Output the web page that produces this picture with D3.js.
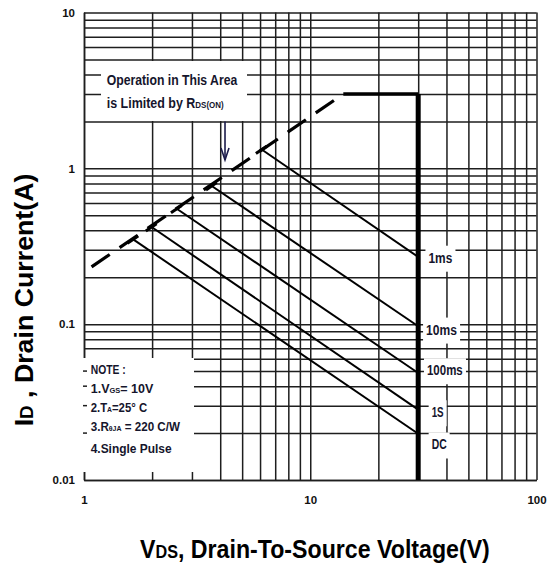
<!DOCTYPE html>
<html>
<head>
<meta charset="utf-8">
<script src="https://cdn.jsdelivr.net/npm/d3@7"></script>
<style>
  html, body { margin: 0; padding: 0; background: #fff; }
  svg { display: block; font-family: "Liberation Sans", Arial, sans-serif; font-weight: bold; }
</style>
</head>
<body>
<svg id="chart" width="547" height="569"></svg>
<script>
// Axis ranges and decade labels
const vdsDomain = [1, 100];
const idDomain = [0.01, 10];
const vdsTickLabels = [1, 10, 100];
const idTickLabels = [0.01, 0.1, 1, 10];

// Safe-operating-area boundaries
const rdsLimitV = [1.08, 14];
const rdsLimitI = [0.233, 3];
const currentLimitV = [14, 30];
const currentLimitI = [3, 3];
const voltageLimitV = [30, 30];
const voltageLimitI = [3, 0.01];

// Pulse-width curves (start on the RDS(on) line, end on the 30 V limit)
const pulseNames = ["1ms", "10ms", "100ms", "1S", "DC"];
const pulseStartV = [6.1, 3.67, 2.57, 1.99, 1.65];
const pulseStartI = [1.32, 0.77, 0.55, 0.42, 0.35];
const pulseEndV = [30, 30, 30, 30, 30];
const pulseEndI = [0.27, 0.097, 0.0486, 0.0283, 0.0198];

// Where each curve name sits (data units)
const pulseLabelV = [33.3, 32.5, 32.8, 34.4, 34.4];
const pulseLabelI = [0.267, 0.0923, 0.0506, 0.0272, 0.0169];

// Annotation arrow: from 2 A down toward the RDS(on) line at 4.2 V
const arrowV = 4.2;
const arrowFromI = 2;
const arrowToI = 1.13;

const svg = d3.select("#chart");
const plotL = 84, plotR = 536.5, plotT = 12.5, plotB = 480;

const x = d3.scaleLog().domain(vdsDomain).range([plotL, plotR]);
const y = d3.scaleLog().domain(idDomain).range([plotB, plotT]);

const round2 = v => +v.toPrecision(6);
const gridV = [];
[1, 10].forEach(d => d3.range(1, 10).forEach(k => gridV.push(round2(d * k))));
gridV.push(100);
const gridI = [];
[0.01, 0.1, 1].forEach(d => d3.range(1, 10).forEach(k => gridI.push(round2(d * k))));
gridI.push(10);

const gridColor = "#1e1e1e";
const textColor = "#15152c";

// Log grid drawn by the axes themselves
const xAxis = d3.axisBottom(x)
  .tickValues(gridV)
  .tickSize(-(plotB - plotT))
  .tickSizeOuter(0)
  .tickPadding(16)
  .tickFormat(d => vdsTickLabels.includes(d) ? String(d) : "");
const yAxis = d3.axisLeft(y)
  .tickValues(gridI)
  .tickSize(-(plotR - plotL))
  .tickSizeOuter(0)
  .tickPadding(9)
  .tickFormat(d => idTickLabels.includes(d) ? String(d) : "");

const gx = svg.append("g").attr("transform", `translate(0,${plotB})`).call(xAxis);
const gy = svg.append("g").attr("transform", `translate(${plotL},0)`).call(yAxis);
[gx, gy].forEach(g => {
  g.attr("font-family", null).attr("font-size", null);
  g.selectAll("line, path.domain").attr("stroke", gridColor).attr("stroke-width", 1.5);
  g.selectAll("text").attr("font-size", 11.5).attr("fill", "#111");
});

// Text helper: builds a text from parts (with smaller subscript-like parts)
// and squeezes it horizontally to a given width.
function fitText(parent, opt) {
  const g = parent.append("g")
    .attr("transform", `translate(${opt.x},${opt.y})` + (opt.rotate ? ` rotate(${opt.rotate})` : ""));
  const t = g.append("text")
    .attr("font-size", opt.size)
    .attr("text-anchor", opt.anchor || "start")
    .attr("fill", opt.fill || textColor);
  opt.parts.forEach(p => t.append("tspan").attr("font-size", opt.size * (p[1] || 1)).text(p[0]));
  if (opt.width) {
    const w = t.node().getBBox().width;
    t.attr("transform", `scale(${opt.width / w},1)`);
  }
  return t;
}

const white = svg.append("g");
const marks = svg.append("g");
const labels = svg.append("g");

// Annotation box
white.append("rect").attr("x", 101).attr("y", 61).attr("width", 146).attr("height", 60).attr("fill", "#fff");
fitText(labels, { x: 106.7, y: 85, size: 14, width: 131, parts: [["Operation in This Area"]] });
fitText(labels, { x: 106.7, y: 108, size: 14, width: 117, parts: [["is Limited by R"], ["DS(ON)", 0.64]] });

// Note box
white.append("rect").attr("x", 82).attr("y", 358).attr("width", 112).attr("height", 114).attr("fill", "#fff");
[0.05, 0.04, 0.03, 0.02].forEach(v => {
  white.append("line")
    .attr("x1", plotL - 1).attr("x2", plotL + 3)
    .attr("y1", y(v)).attr("y2", y(v))
    .attr("stroke", gridColor).attr("stroke-width", 1.5);
});
const noteX = 90.7;
fitText(labels, { x: noteX, y: 373.5, size: 13, width: 35, parts: [["NOTE :"]] });
fitText(labels, { x: noteX, y: 392.5, size: 13, width: 63, parts: [["1.V"], ["GS", 0.6], ["= 10V"]] });
fitText(labels, { x: noteX, y: 412, size: 13, width: 57, parts: [["2.T"], ["A", 0.6], ["=25° C"]] });
fitText(labels, { x: noteX, y: 431, size: 13, width: 90, parts: [["3.R"], ["θJA", 0.6], [" = 220 C/W"]] });
fitText(labels, { x: noteX, y: 452.5, size: 13, width: 81, parts: [["4.Single Pulse"]] });

// Pulse curve names with white backing
const pulseWidths = [24, 31, 36, 12, 15];
pulseNames.forEach((name, i) => {
  const cx = x(pulseLabelV[i]);
  const cy = y(pulseLabelI[i]);
  fitText(labels, { x: cx, y: cy + 5, size: 14, width: pulseWidths[i], parts: [[name]] });
  white.append("rect")
    .attr("x", cx - 3).attr("y", cy - 12)
    .attr("width", pulseWidths[i] + 6).attr("height", 26)
    .attr("fill", "#fff");
});

// Pulse-width curves
const line = d3.line().x(d => x(d[0])).y(d => y(d[1]));
pulseNames.forEach((name, i) => {
  marks.append("path")
    .attr("d", line([[pulseStartV[i], pulseStartI[i]], [pulseEndV[i], pulseEndI[i]]]))
    .attr("fill", "none").attr("stroke", "#000").attr("stroke-width", 2);
});

// RDS(on) limit (dashed)
const rdsPts = rdsLimitV.map((v, i) => [v, rdsLimitI[i]]);
marks.append("path")
  .attr("d", line(rdsPts))
  .attr("fill", "none").attr("stroke", "#000").attr("stroke-width", 3.2)
  .attr("stroke-dasharray", "22,12");

// Short tick where each curve meets the RDS(on) line
const p0 = [x(rdsPts[0][0]), y(rdsPts[0][1])];
const p1 = [x(rdsPts[1][0]), y(rdsPts[1][1])];
const len = Math.hypot(p1[0] - p0[0], p1[1] - p0[1]);
const ux = (p1[0] - p0[0]) / len, uy = (p1[1] - p0[1]) / len;
pulseNames.forEach((name, i) => {
  const px = x(pulseStartV[i]), py = y(pulseStartI[i]);
  marks.append("line")
    .attr("x1", px - 7 * ux).attr("y1", py - 7 * uy)
    .attr("x2", px + 6 * ux).attr("y2", py + 6 * uy)
    .attr("stroke", "#000").attr("stroke-width", 3);
});

// Current and voltage limits
marks.append("path")
  .attr("d", line(currentLimitV.map((v, i) => [v, currentLimitI[i]])))
  .attr("fill", "none").attr("stroke", "#000").attr("stroke-width", 3.5);
marks.append("path")
  .attr("d", line(voltageLimitV.map((v, i) => [v, voltageLimitI[i]])))
  .attr("fill", "none").attr("stroke", "#000").attr("stroke-width", 5);

// Arrow pointing at the RDS(on) line
const ax = x(arrowV), ay0 = y(arrowFromI), ay1 = y(arrowToI);
marks.append("line")
  .attr("x1", ax).attr("x2", ax).attr("y1", ay0).attr("y2", ay1)
  .attr("stroke", "#1b1b4a").attr("stroke-width", 1.6);
marks.append("path")
  .attr("d", `M${ax - 4},${ay1 - 12}L${ax},${ay1}L${ax + 4},${ay1 - 12}`)
  .attr("fill", "none").attr("stroke", "#1b1b4a").attr("stroke-width", 1.6);

// Axis titles
fitText(svg, { x: 140, y: 558, size: 25, width: 350, fill: "#000",
  parts: [["V"], ["DS", 0.7], [", Drain-To-Source Voltage(V)"]] });
fitText(svg, { x: 33, y: 300, size: 25, width: 253, rotate: -90, anchor: "middle", fill: "#000",
  parts: [["I"], ["D", 0.7], [" , Drain Current(A)"]] });
</script>
</body>
</html>
